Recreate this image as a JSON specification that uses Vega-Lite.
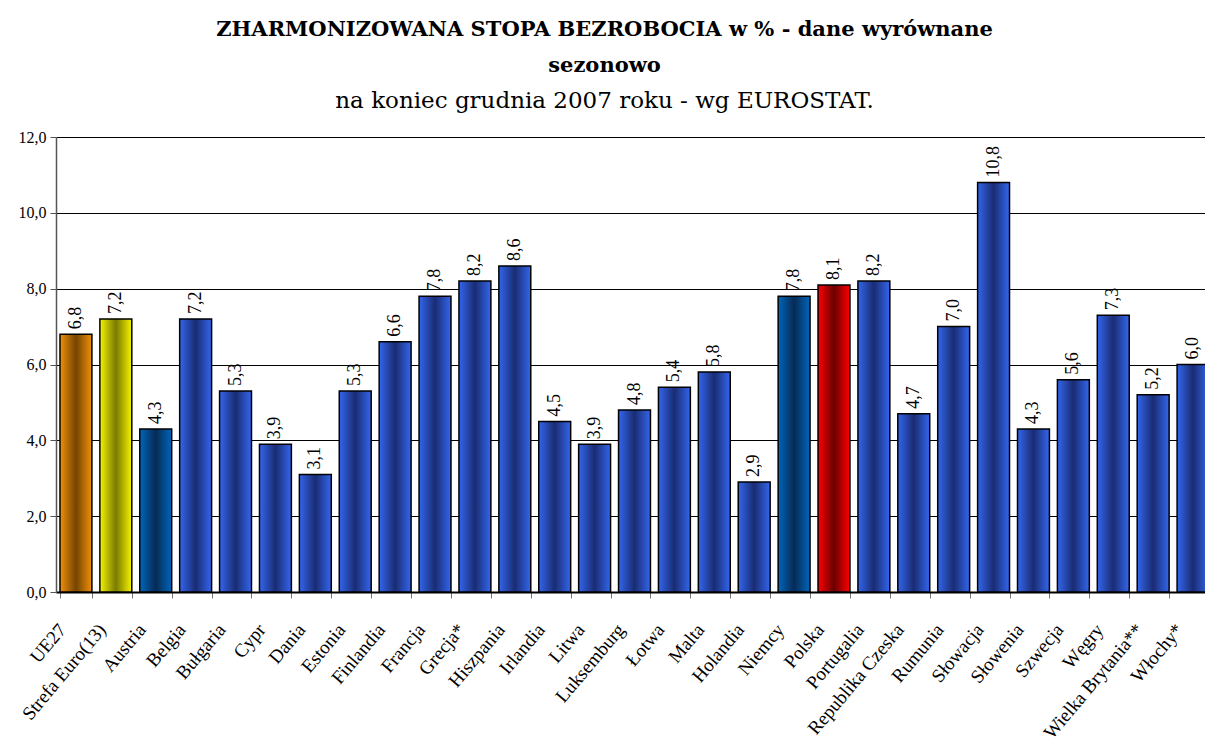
{
  "$schema": "https://vega.github.io/schema/vega-lite/v6.json",
  "width": 1157,
  "height": 455,
  "autosize": "none",
  "padding": {"left": 56, "top": 137, "right": 0, "bottom": 150},
  "background": "white",
  "title": {
    "text": ["ZHARMONIZOWANA STOPA BEZROBOCIA  w % - dane wyrównane", "sezonowo"],
    "subtitle": "na koniec grudnia 2007 roku - wg EUROSTAT.",
    "font": "DejaVu Serif",
    "fontSize": 21,
    "fontWeight": "bold",
    "lineHeight": 36,
    "subtitleFont": "DejaVu Serif",
    "subtitleFontSize": 23,
    "subtitlePadding": 14,
    "subtitleColor": "black",
    "color": "black",
    "anchor": "middle",
    "dx": -30,
    "offset": 16
  },
  "config": {
    "view": {"stroke": null},
    "axis": {"labelFont": "Liberation Serif", "titleFont": "Liberation Serif", "labelColor": "black"}
  },
  "data": {
    "values": [
      {"kraj": "UE27", "stopa": 6.8},
      {"kraj": "Strefa Euro(13)", "stopa": 7.2},
      {"kraj": "Austria", "stopa": 4.3},
      {"kraj": "Belgia", "stopa": 7.2},
      {"kraj": "Bułgaria", "stopa": 5.3},
      {"kraj": "Cypr", "stopa": 3.9},
      {"kraj": "Dania", "stopa": 3.1},
      {"kraj": "Estonia", "stopa": 5.3},
      {"kraj": "Finlandia", "stopa": 6.6},
      {"kraj": "Francja", "stopa": 7.8},
      {"kraj": "Grecja*", "stopa": 8.2},
      {"kraj": "Hiszpania", "stopa": 8.6},
      {"kraj": "Irlandia", "stopa": 4.5},
      {"kraj": "Litwa", "stopa": 3.9},
      {"kraj": "Luksemburg", "stopa": 4.8},
      {"kraj": "Łotwa", "stopa": 5.4},
      {"kraj": "Malta", "stopa": 5.8},
      {"kraj": "Holandia", "stopa": 2.9},
      {"kraj": "Niemcy", "stopa": 7.8},
      {"kraj": "Polska", "stopa": 8.1},
      {"kraj": "Portugalia", "stopa": 8.2},
      {"kraj": "Republika Czeska", "stopa": 4.7},
      {"kraj": "Rumunia", "stopa": 7.0},
      {"kraj": "Słowacja", "stopa": 10.8},
      {"kraj": "Słowenia", "stopa": 4.3},
      {"kraj": "Szwecja", "stopa": 5.6},
      {"kraj": "Węgry", "stopa": 7.3},
      {"kraj": "Wielka Brytania**", "stopa": 5.2},
      {"kraj": "Włochy*", "stopa": 6.0}
    ]
  },
  "encoding": {
    "x": {
      "field": "kraj",
      "type": "nominal",
      "sort": null,
      "scale": {"paddingInner": 0.2, "paddingOuter": 0.1},
      "axis": {
        "title": null,
        "labelAngle": -50,
        "labelAlign": "right",
        "labelBaseline": "middle",
        "labelFontSize": 19,
        "labelPadding": 28,
        "labelOffset": -14,
        "tickBand": "extent",
        "tickColor": "#777777",
        "tickSize": 6,
        "domainColor": "black",
        "domainWidth": 2
      }
    },
    "y": {
      "field": "stopa",
      "type": "quantitative",
      "scale": {"domain": [0, 12], "nice": false},
      "axis": {
        "title": null,
        "values": [0, 2, 4, 6, 8, 10, 12],
        "labelExpr": "replace(format(datum.value, '.1f'), '.', ',')",
        "labelFontSize": 16,
        "labelPadding": 4,
        "grid": true,
        "gridColor": "black",
        "gridWidth": 1,
        "gridOpacity": 1,
        "tickColor": "#555555",
        "tickSize": 6,
        "domainColor": "#555555",
        "domainWidth": 1.5
      }
    }
  },
  "layer": [
    {
      "mark": {"type": "bar", "stroke": "black", "strokeWidth": 1.5},
      "encoding": {
        "fill": {
          "condition": [
            {"test": "datum.kraj === 'UE27'", "value": {"gradient": "linear", "x1": 0, "x2": 1, "y1": 0, "y2": 0, "stops": [{"offset": 0, "color": "#F0900A"}, {"offset": 0.5, "color": "#744400"}, {"offset": 1, "color": "#F0900A"}]}},
            {"test": "datum.kraj === 'Strefa Euro(13)'", "value": {"gradient": "linear", "x1": 0, "x2": 1, "y1": 0, "y2": 0, "stops": [{"offset": 0, "color": "#F4F400"}, {"offset": 0.5, "color": "#7A7A00"}, {"offset": 1, "color": "#F4F400"}]}},
            {"test": "datum.kraj === 'Austria' || datum.kraj === 'Niemcy'", "value": {"gradient": "linear", "x1": 0, "x2": 1, "y1": 0, "y2": 0, "stops": [{"offset": 0, "color": "#0066BB"}, {"offset": 0.5, "color": "#072A55"}, {"offset": 1, "color": "#0066BB"}]}},
            {"test": "datum.kraj === 'Polska'", "value": {"gradient": "linear", "x1": 0, "x2": 1, "y1": 0, "y2": 0, "stops": [{"offset": 0, "color": "#FF0000"}, {"offset": 0.5, "color": "#6A0000"}, {"offset": 1, "color": "#FF0000"}]}}
          ],
          "value": {"gradient": "linear", "x1": 0, "x2": 1, "y1": 0, "y2": 0, "stops": [{"offset": 0, "color": "#3366EE"}, {"offset": 0.5, "color": "#1A2C72"}, {"offset": 1, "color": "#3366EE"}]}
        }
      }
    },
    {
      "mark": {"type": "text", "angle": 270, "align": "left", "baseline": "middle", "dx": 5, "font": "Liberation Serif", "fontSize": 18, "color": "black"},
      "encoding": {
        "text": {"value": {"expr": "replace(format(datum.stopa, '.1f'), '.', ',')"}}
      }
    }
  ]
}
